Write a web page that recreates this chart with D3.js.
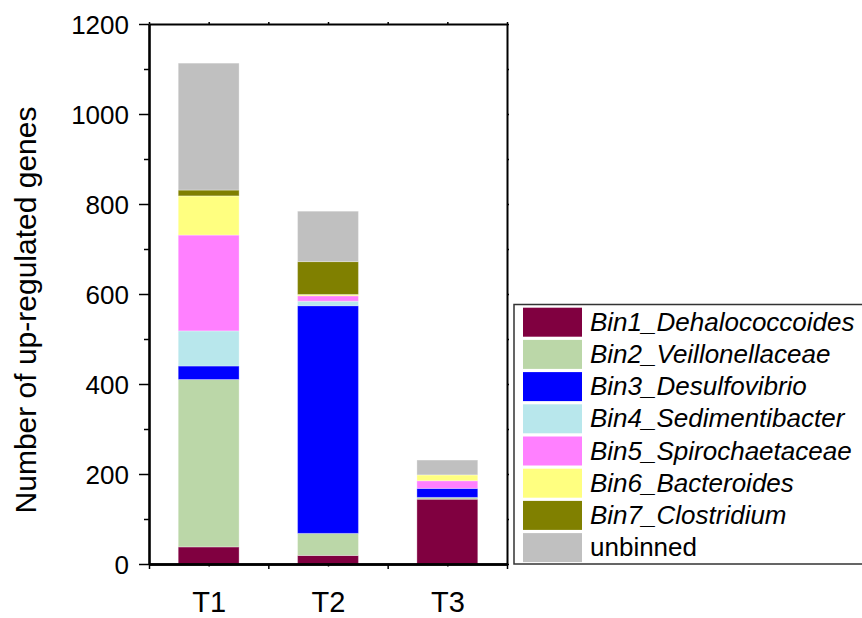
<!DOCTYPE html>
<html>
<head>
<meta charset="utf-8">
<script src="https://cdn.jsdelivr.net/npm/d3@7"></script>
<style>
  body { margin: 0; background: #fff; }
  text { font-family: "Liberation Sans", Arial, sans-serif; fill: #000; }
</style>
</head>
<body>
<div id="chart"></div>
<script>
// data
var categories = ['T1', 'T2', 'T3'];
var series = ['Bin1_Dehalococcoides', 'Bin2_Veillonellaceae', 'Bin3_Desulfovibrio',
  'Bin4_Sedimentibacter', 'Bin5_Spirochaetaceae', 'Bin6_Bacteroides',
  'Bin7_Clostridium', 'unbinned'];
var italicSeries = [true, true, true, true, true, true, true, false];
var bin1 = [38, 19, 144];
var bin2 = [372, 49, 4];
var bin3 = [30, 506, 20];
var bin4 = [78, 10, 0];
var bin5 = [213, 12, 17];
var bin6 = [87, 3, 13];
var bin7 = [13, 73, 0];
var unbinned = [282, 112, 33];
var yTicks = [0, 200, 400, 600, 800, 1000, 1200];
var yMinor = [100, 300, 500, 700, 900, 1100];

var colors = ['#800040', '#BBD7A8', '#0000FF', '#B8E7EC', '#FF80FF', '#FFFF80', '#808000', '#C0C0C0'];
var values = [bin1, bin2, bin3, bin4, bin5, bin6, bin7, unbinned];

var W = 862, H = 618;
var pLeft = 149, pRight = 507, pTop = 24, pBottom = 564;

var table = categories.map(function (c, i) {
  var row = { cat: c, idx: i + 1 };
  series.forEach(function (s, j) { row[s] = values[j][i]; });
  return row;
});
var stacked = d3.stack().keys(series)(table);

var x = d3.scaleLinear().domain([0.5, 3.5]).range([pLeft, pRight]);
var y = d3.scaleLinear().domain([0, 1200]).range([pBottom, pTop]);
var barW = 0.51;

var svg = d3.select('#chart').append('svg')
  .attr('width', W)
  .attr('height', H);

// bars
svg.append('g').selectAll('g').data(stacked)
  .enter().append('g')
  .attr('fill', function (d, i) { return colors[i]; })
  .selectAll('rect').data(function (d) { return d; })
  .enter().append('rect')
  .attr('x', function (d) { return x(d.data.idx - barW / 2); })
  .attr('width', x(barW) - x(0))
  .attr('y', function (d) { return y(d[1]); })
  .attr('height', function (d) { return y(d[0]) - y(d[1]); })
  .attr('stroke', 'rgba(255,255,255,0.3)')
  .attr('stroke-width', 1);

function styleAxis(g, w) {
  g.selectAll('path').attr('stroke', '#000').attr('stroke-width', w);
  g.selectAll('line').attr('stroke', '#000').attr('stroke-width', 1.5);
}

// frame: top and right
var gTop = svg.append('g').attr('transform', 'translate(0,' + pTop + ')')
  .call(d3.axisTop(x).tickValues([0.5, 1, 1.5, 2, 2.5, 3, 3.5]).tickSize(2).tickSizeOuter(0).tickFormat(''));
styleAxis(gTop, 2);
var gRight = svg.append('g').attr('transform', 'translate(' + pRight + ',0)')
  .call(d3.axisRight(y).tickValues(yTicks.concat(yMinor)).tickSize(2).tickSizeOuter(0).tickFormat(''));
styleAxis(gRight, 2);

// left axis
var gMinor = svg.append('g').attr('transform', 'translate(' + pLeft + ',0)')
  .call(d3.axisLeft(y).tickValues(yMinor).tickSize(5).tickSizeOuter(0).tickFormat(''));
styleAxis(gMinor, 2);
var gLeft = svg.append('g').attr('transform', 'translate(' + pLeft + ',0)')
  .call(d3.axisLeft(y).tickValues(yTicks).tickSize(10).tickSizeOuter(0).tickPadding(10)
    .tickFormat(d3.format('d')));
styleAxis(gLeft, 2.2);
gLeft.selectAll('text').style('font-size', '26px').attr('dy', '0.35em');

// bottom axis
var gBotMinor = svg.append('g').attr('transform', 'translate(0,' + pBottom + ')')
  .call(d3.axisBottom(x).tickValues([1, 2, 3]).tickSize(2.5).tickSizeOuter(0).tickFormat(''));
styleAxis(gBotMinor, 2.5);
var gBot = svg.append('g').attr('transform', 'translate(0,' + pBottom + ')')
  .call(d3.axisBottom(x).tickValues([0.5, 1.5, 2.5, 3.5]).tickSize(5).tickSizeOuter(0).tickFormat(''));
styleAxis(gBot, 2.5);
var gCat = svg.append('g').attr('transform', 'translate(0,' + pBottom + ')')
  .call(d3.axisBottom(x).tickValues([1, 2, 3]).tickSize(0)
    .tickFormat(function (d) { return categories[d - 1]; }).tickPadding(27));
gCat.select('path').remove();
gCat.selectAll('text').style('font-size', '29px').attr('dy', '0.71em');

// y title
svg.append('text')
  .attr('transform', 'translate(36,310) rotate(-90)')
  .attr('text-anchor', 'middle')
  .style('font-size', '30px')
  .text('Number of up-regulated genes');

// legend
var lg = svg.append('g');
lg.append('rect')
  .attr('x', 514).attr('y', 304.5)
  .attr('width', 360).attr('height', 259.5)
  .attr('fill', '#fff').attr('stroke', '#333').attr('stroke-width', 1.5);
var item = lg.selectAll('g.item').data(series)
  .enter().append('g')
  .attr('transform', function (d, i) { return 'translate(523,' + (307.7 + i * 32.2) + ')'; });
item.append('rect')
  .attr('width', 59).attr('height', 29)
  .attr('fill', function (d, i) { return colors[i]; });
item.append('text')
  .attr('x', 67).attr('y', 23)
  .style('font-size', '26px')
  .style('font-style', function (d, i) { return italicSeries[i] ? 'italic' : 'normal'; })
  .text(function (d) { return d; });
</script>
</body>
</html>
